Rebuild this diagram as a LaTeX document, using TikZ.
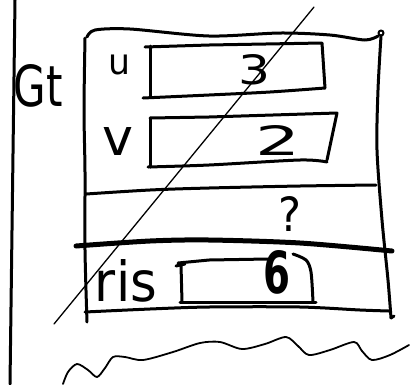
\documentclass[tikz,border=0pt]{standalone}
\usepackage{fontspec}
\setmainfont{DejaVu Sans}
\usepackage{graphicx}
\begin{document}
\begin{tikzpicture}[x=1pt,y=-1pt,line cap=round,line join=round,
  ink/.style={line width=3pt},
  thinink/.style={line width=1.3pt},
  heavy/.style={line width=5pt},
  lbl/.style={inner sep=0pt,outer sep=0pt}]
\useasboundingbox (0,0) rectangle (418,384);
% left page margin line
\draw[ink] (15,0) -- (10,384);
% outer frame
\draw[ink] plot[smooth] coordinates {(87,37) (95,30) (130,29) (209,36) (280,33) (330,35) (365,40) (378,36)};
\draw[line width=2pt] (381,33) circle (2.5);
\draw[ink] plot[smooth] coordinates {(381,36) (378,90) (377,150) (382,220) (388,280) (391,318)};
\draw[ink] (391,318) -- (394,316);
\draw[ink] plot[smooth] coordinates {(85,38) (84,110) (85,172) (85,250) (87,322)};
\draw[ink] plot[smooth] coordinates {(85,312) (150,309) (209,307) (300,307) (360,310) (389,311)};
% separators
\draw[ink] plot[smooth] coordinates {(86,194) (150,190) (209,188) (300,186) (376,185)};
\draw[heavy] plot[smooth] coordinates {(76,246) (150,241) (209,240) (300,243) (392,251)};
% box u
\draw[ink] (150,46) -- (150,97);
\draw[ink] (145,47) -- (209,45) -- (322,43) -- (325,88);
\draw[ink] plot[smooth] coordinates {(143,98) (209,95) (270,92) (325,88)};
% box v
\draw[ink] (150,118) -- (150,167);
\draw[ink] (150,118) -- (209,117) -- (337,113) -- (327,160);
\draw[ink] plot[smooth] coordinates {(148,167) (209,165) (300,160) (327,162)};
% box ris
\draw[ink] (181,265) -- (182,302);
\draw[ink] (176,266) -- (185,264);
\draw[ink] (178,263) -- (209,260) -- (268,259);
\draw[ink] plot[smooth] coordinates {(293,254) (306,260) (311,272) (313,302)};
\draw[ink] (180,302) -- (316,302);
% diagonal stroke
\draw[thinink] (314,7) -- (54,324);
% wavy line
\draw[thinink,line width=1.8pt] plot[smooth] coordinates {(63,384) (68,372) (77,364) (88,370) (97,377) (105,368) (113,357) (125,357) (143,360) (173,352) (200,343) (220,342) (242,349) (265,344) (286,337) (298,346) (309,355) (330,350) (354,342) (362,351) (372,360) (390,355) (409,345)};
% labels
\node[lbl] (gt) at (38.5,86) {\resizebox{49pt}{42pt}{Gt}};
\node[lbl] (u) at (119,65) {\resizebox{22pt}{20pt}{u}};
\node[lbl] (v) at (117.5,141) {\resizebox{31pt}{28pt}{v}};
\node[lbl] (three) at (255,70) {\resizebox{32pt}{30pt}{3}};
\node[lbl] (two) at (278,140) {\resizebox{45pt}{30pt}{2}};
\node[lbl] (q) at (290,214) {\resizebox{23pt}{35pt}{?}};
\node[lbl] (ris) at (126,281) {\resizebox{62pt}{42pt}{ris}};
\node[lbl] (six) at (277,272) {\resizebox{27pt}{43pt}{\bfseries 6}};
\end{tikzpicture}
\end{document}
